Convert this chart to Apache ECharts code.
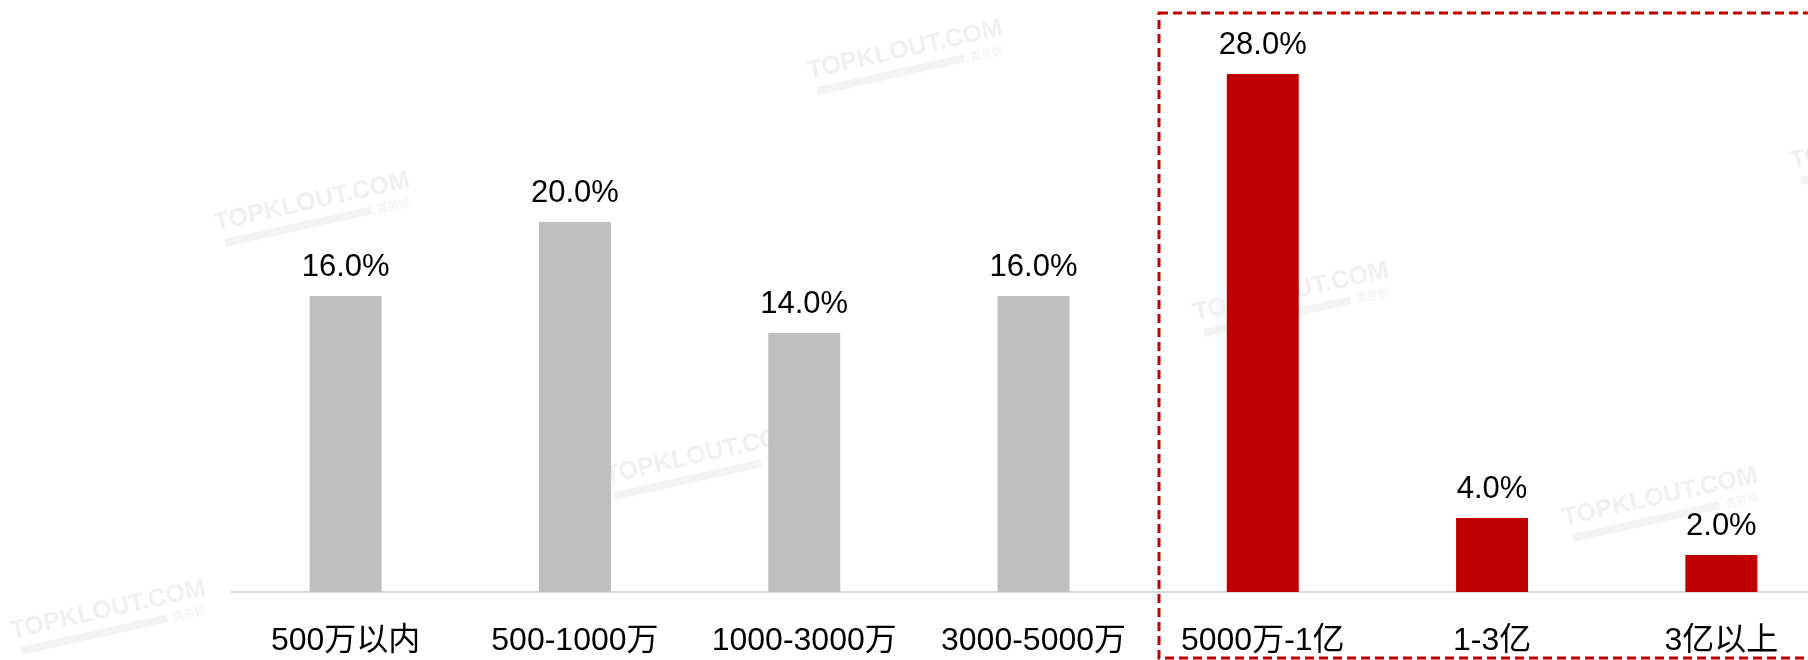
<!DOCTYPE html>
<html>
<head>
<meta charset="utf-8">
<script src="https://cdn.jsdelivr.net/npm/echarts@6/dist/echarts.min.js"></script>
<style>
  html, body { margin: 0; padding: 0; background: #fff; }
  #chart { width: 1808px; height: 660px; }
</style>
</head>
<body>
<div id="chart"></div>
<script>
const categories = ['500万以内', '500-1000万', '1000-3000万', '3000-5000万', '5000万-1亿', '1-3亿', '3亿以上']
const shares = [16.0, 20.0, 14.0, 16.0, 28.0, 4.0, 2.0]
const highlighted = ['5000万-1亿', '1-3亿', '3亿以上']

const FONT = '"Liberation Sans", Arial, "Noto Sans CJK SC", sans-serif'

// faint TOPKLOUT watermarks (center x, center y)
const marks = [
  [312, 202], [905, 50], [702, 455], [1291, 292], [1660, 497], [108, 610], [1888, 140]
]

function watermark(p) {
  return {
    type: 'group',
    x: p[0],
    y: p[1],
    rotation: 0.22,
    silent: true,
    z: 0,
    children: [
      {
        type: 'text',
        style: {
          text: 'TOPKLOUT.COM',
          x: 0, y: 0,
          align: 'center',
          verticalAlign: 'middle',
          fill: '#f0f0f0',
          font: 'bold 25px ' + FONT
        }
      },
      {
        type: 'rect',
        shape: { x: -94, y: 17, width: 150, height: 8 },
        style: { fill: '#f3f3f3' }
      },
      {
        type: 'text',
        style: {
          text: '克劳锐',
          x: 62, y: 21,
          verticalAlign: 'middle',
          fill: '#f0f0f0',
          font: '11px "Noto Sans CJK SC", sans-serif'
        }
      }
    ]
  }
}

const chart = echarts.init(document.getElementById('chart'))

chart.setOption({
  animation: false,
  backgroundColor: '#ffffff',
  textStyle: { fontFamily: FONT },
  grid: {
    left: 231,
    right: -28,
    top: 37,
    bottom: 68,
    outerBoundsMode: 'none'
  },
  xAxis: {
    type: 'category',
    data: categories,
    axisLine: { lineStyle: { color: '#d9d9d9', width: 2 } },
    axisTick: { show: false },
    axisLabel: {
      color: '#000',
      fontSize: 32,
      fontFamily: FONT,
      margin: 33,
      interval: 0
    }
  },
  yAxis: {
    type: 'value',
    min: 0,
    max: 30,
    show: false,
    splitLine: { show: false }
  },
  series: [
    {
      type: 'bar',
      data: shares,
      barWidth: 72,
      z: 2,
      itemStyle: {
        color: (p) => highlighted.includes(p.name) ? '#C00000' : '#BFBFBF'
      },
      label: {
        show: true,
        position: 'top',
        distance: 13,
        color: '#000',
        fontSize: 31,
        fontFamily: FONT,
        formatter: (p) => p.value.toFixed(1) + '%'
      }
    }
  ],
  graphic: marks.map(watermark).concat([
    {
      type: 'rect',
      silent: true,
      z: 10,
      shape: { x: 1159, y: 13, width: 700, height: 645 },
      style: {
        fill: 'none',
        stroke: '#C00000',
        lineWidth: 3,
        lineDash: [9, 5]
      }
    }
  ])
})

window.addEventListener('resize', () => chart.resize())
</script>
</body>
</html>
